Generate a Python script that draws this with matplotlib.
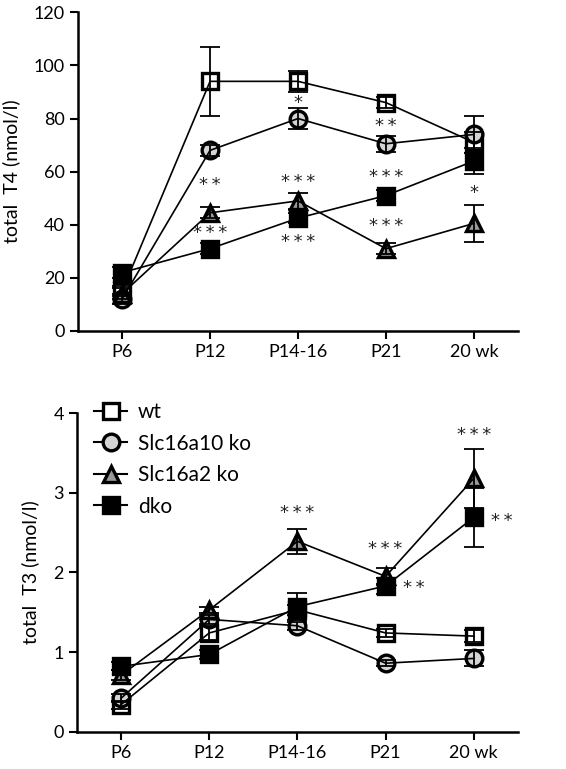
#!/usr/bin/env python3
"""Total T4 and T3 serum levels across ages for wt / Slc16a10 ko / Slc16a2 ko / dko."""

import matplotlib
matplotlib.use("Agg")
import matplotlib.pyplot as plt
from matplotlib.lines import Line2D

plt.rcParams["font.family"] = ["Lato", "DejaVu Sans"]

AGES = ["P6", "P12", "P14-16", "P21", "20 wk"]
GROUPS = ["wt", "Slc16a10 ko", "Slc16a2 ko", "dko"]

# total T4 (nmol/l): means and error
T4_WT = [15, 94, 94, 86, 71]
T4_WT_ERR = [2, 13, 4, 2, 4]
T4_A10 = [12, 68, 80, 70.5, 74]
T4_A10_ERR = [2, 2, 4, 3, 7]
T4_A2 = [14, 44.5, 49, 31, 40.5]
T4_A2_ERR = [2, 2, 3, 2, 7]
T4_DKO = [22, 31, 42.5, 51, 64]
T4_DKO_ERR = [2, 2, 2, 2, 5]

# total T3 (nmol/l)
T3_WT = [0.34, 1.24, 1.53, 1.24, 1.2]
T3_WT_ERR = [0.05, 0.09, 0.06, 0.05, 0.08]
T3_A10 = [0.42, 1.41, 1.33, 0.86, 0.92]
T3_A10_ERR = [0.05, 0.06, 0.05, 0.04, 0.1]
T3_A2 = [0.71, 1.53, 2.39, 1.95, 3.18]
T3_A2_ERR = [0.06, 0.04, 0.16, 0.1, 0.37]
T3_DKO = [0.82, 0.97, 1.57, 1.83, 2.69]
T3_DKO_ERR = [0.05, 0.06, 0.17, 0.1, 0.37]

# significance marks: (age index, x offset, y value, label)
T4_STARS = [(1, 0, 55, "**"), (1, 0, 37, "***"), (2, 0, 86, "*"), (2, 0, 56, "***"),
            (2, 0, 33.5, "***"), (3, 0, 77, "**"), (3, 0, 58, "***"), (3, 0, 39.5, "***"),
            (4, 0, 52, "*")]
T3_STARS = [(2, 0, 2.74, "***"), (3, 0, 2.3, "***"), (3, 0.32, 1.8, "**"),
            (4, 0, 3.73, "***"), (4, 0.32, 2.64, "**")]

STYLES = [
    dict(marker="s", markerfacecolor="white"),
    dict(marker="o", markerfacecolor="#d4d4d4"),
    dict(marker="^", markerfacecolor="#9a9a9a"),
    dict(marker="s", markerfacecolor="black"),
]


def draw_panel(ax, series, errors, stars, ylim, yticks, ylabel):
    x = list(range(len(AGES)))
    for values, err, style in zip(series, errors, STYLES):
        ax.plot(x, values, linestyle="none", markersize=12, markeredgecolor="black",
                markeredgewidth=2.4, zorder=2, clip_on=False, **style)
        ax.plot(x, values, color="black", linewidth=1.2, zorder=3)
        ax.errorbar(x, values, yerr=err, fmt="none", ecolor="black", elinewidth=1.3,
                    capsize=7, capthick=1.3, zorder=3)
    for idx, dx, y, label in stars:
        ax.text(idx + dx, y, "\u2009".join(label), ha="center", va="center", fontsize=13,
                family="DejaVu Sans", color="#222222")
    ax.set_xlim(-0.5, 4.5)
    ax.set_ylim(*ylim)
    ax.set_yticks(yticks)
    ax.set_xticks(x)
    ax.set_xticklabels(AGES)
    ax.spines["top"].set_visible(False)
    ax.spines["right"].set_visible(False)
    ax.spines["left"].set_linewidth(1.8)
    ax.spines["bottom"].set_linewidth(1.8)
    ax.tick_params(direction="out", length=6, width=1.5, labelsize=13, colors="black")
    ax.set_ylabel(ylabel, fontsize=14, labelpad=10)


def main():
    fig = plt.figure(figsize=(5.66, 7.69), dpi=100)
    ax1 = fig.add_axes([0.138, 0.5696, 0.777, 0.4144])
    ax2 = fig.add_axes([0.136, 0.0485, 0.779, 0.4143])

    draw_panel(ax1, [T4_WT, T4_A10, T4_A2, T4_DKO],
               [T4_WT_ERR, T4_A10_ERR, T4_A2_ERR, T4_DKO_ERR],
               T4_STARS, (0, 120), range(0, 121, 20), "total  T4 (nmol/l)")
    draw_panel(ax2, [T3_WT, T3_A10, T3_A2, T3_DKO],
               [T3_WT_ERR, T3_A10_ERR, T3_A2_ERR, T3_DKO_ERR],
               T3_STARS, (0, 4), range(0, 5), "total  T3 (nmol/l)")

    handles = [Line2D([0], [0], color="black", linewidth=1.5, markersize=12,
                      markeredgecolor="black", markeredgewidth=2.4, **style)
               for style in STYLES]
    ax2.legend(handles, GROUPS, loc="upper left", bbox_to_anchor=(0.02, 1.06),
               frameon=False, fontsize=15, handlelength=1.6, handletextpad=0.5,
               labelspacing=0.55, borderaxespad=0)

    fig.savefig("out.png", dpi=100)
    plt.close(fig)


if __name__ == "__main__":
    main()
